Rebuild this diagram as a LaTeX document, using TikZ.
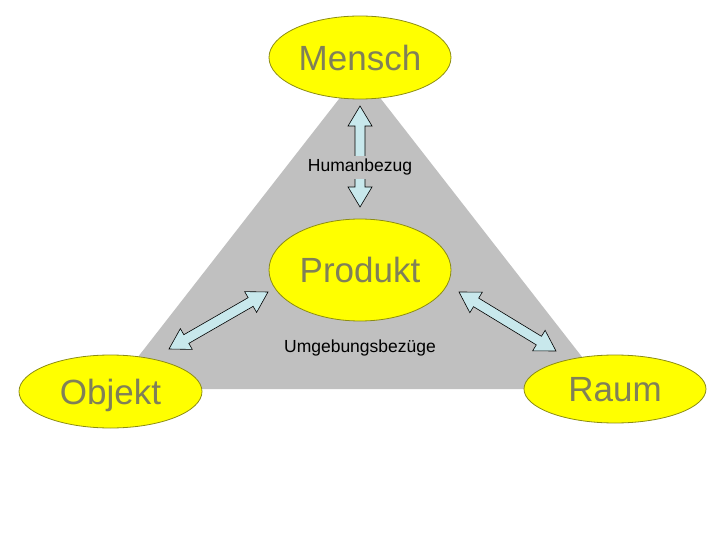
\documentclass[tikz,border=0pt]{standalone}
\usepackage{fontspec}
\setmainfont{Liberation Sans}
\usetikzlibrary{shapes.geometric,calc}
\definecolor{tri}{RGB}{192,192,192}
\definecolor{ellfill}{RGB}{255,255,0}
\definecolor{elldraw}{RGB}{140,140,20}
\definecolor{elltext}{RGB}{128,128,88}
\definecolor{arrfill}{RGB}{200,232,236}
\tikzset{
  bubble/.style={ellipse, draw=elldraw, fill=ellfill, line width=0.8pt, inner sep=0pt,
    text=elltext, font=\fontsize{35}{40}\selectfont, text depth=0pt},
  rel/.style={font=\fontsize{17.5}{20}\selectfont, text=black, anchor=base, inner sep=0pt},
  arrowbody/.style={draw=black, fill=arrfill, line width=0.6pt, line join=miter},
}
\newcommand{\dblarr}[2]{%
  \draw[arrowbody] let \p1=($(#2)-(#1)$), \n1={atan2(\y1,\x1)}, \n2={veclen(\x1,\y1)-20pt} in
    (#1) -- ($(#1)+(\n1:20pt)+({\n1+90}:12pt)$) -- ($(#1)+(\n1:20pt)+({\n1+90}:5pt)$)
    -- ($(#1)+(\n1:\n2)+({\n1+90}:5pt)$) -- ($(#1)+(\n1:\n2)+({\n1+90}:12pt)$)
    -- (#2)
    -- ($(#1)+(\n1:\n2)+({\n1-90}:12pt)$) -- ($(#1)+(\n1:\n2)+({\n1-90}:5pt)$)
    -- ($(#1)+(\n1:20pt)+({\n1-90}:5pt)$) -- ($(#1)+(\n1:20pt)+({\n1-90}:12pt)$) -- cycle;}
\begin{document}
\begin{tikzpicture}[x=1pt,y=-1pt]
  \useasboundingbox (0,0) rectangle (720,540);
  % triangle
  \coordinate (apex) at (360,72);
  \coordinate (bl) at (113,389);
  \coordinate (br) at (607,389);
  \fill[tri] (apex) -- (bl) -- (br) -- cycle;
  % arrow end points
  \coordinate (hb) at (360,207);
  \coordinate (ht) at (360,106);
  \coordinate (la) at (169,349);
  \coordinate (lb) at (268,292);
  \coordinate (ra) at (459,292);
  \coordinate (rb) at (556,351);
  \dblarr{hb}{ht}
  \dblarr{la}{lb}
  \dblarr{ra}{rb}
  % labels
  \node[rel, fill=tri, inner sep=3.5pt] (human) at (360,172) {Humanbezug};
  \node[rel] (umg) at (360,352) {Umgebungsbezüge};
  % ellipses
  \node[bubble, minimum width=182, minimum height=83] (mensch) at (360,57.5) {Mensch};
  \node[bubble, minimum width=182, minimum height=102] (produkt) at (360,270) {Produkt};
  \node[bubble, minimum width=183, minimum height=73] (objekt) at (110.5,391.5) {Objekt};
  \node[bubble, minimum width=182, minimum height=68] (raum) at (615,389) {Raum};
\end{tikzpicture}
\end{document}
